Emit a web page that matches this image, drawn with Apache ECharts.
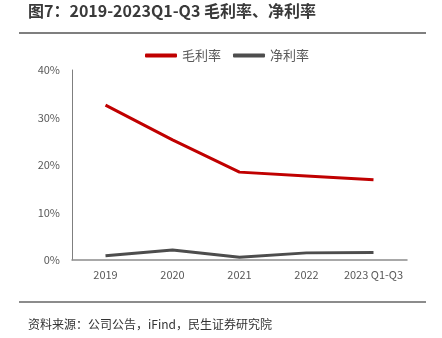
<!DOCTYPE html>
<html><head><meta charset="utf-8">
<script src="https://cdn.jsdelivr.net/npm/echarts@6/dist/echarts.min.js"></script>
<style>html,body{margin:0;padding:0;background:#fff}#c{width:442px;height:338px}</style>
</head><body><div id="c"></div>
<script>
const categories = ['2019', '2020', '2021', '2022', '2023 Q1-Q3'];
const grossMargin = [32.6, 25.3, 18.5, 17.7, 16.9];
const netMargin = [0.9, 2.1, 0.6, 1.5, 1.6];
const yTicks = [0, 10, 20, 30, 40];

const chart = echarts.init(document.getElementById('c'));
const font = '"Noto Sans CJK SC", "Microsoft YaHei", sans-serif';
chart.setOption({
  animation: false,
  textStyle: { fontFamily: font },
  graphic: [
    { type: 'text', left: 28, top: 3, style: { text: '图7：2019-2023Q1-Q3 毛利率、净利率', font: 'bold 16px ' + font, fill: '#3a3a3a' } },
    { type: 'line', shape: { x1: 19, y1: 33, x2: 426, y2: 33 }, style: { stroke: '#555', lineWidth: 1.5 } },
    { type: 'line', shape: { x1: 19, y1: 302, x2: 426, y2: 302 }, style: { stroke: '#666', lineWidth: 1.5 } },
    { type: 'text', left: 28, top: 318, style: { text: '资料来源：公司公告，iFind，民生证券研究院', font: '12px ' + font, fill: '#333' } }
  ],
  legend: {
    top: 44, left: 140,
    itemWidth: 32, itemHeight: 4, itemGap: 12,
    icon: 'roundRect',
    textStyle: { fontSize: 13, color: '#595959', fontFamily: font },
    data: ['毛利率', '净利率']
  },
  grid: { left: 72, right: 35, top: 70, bottom: 78, containLabel: false },
  xAxis: {
    type: 'category', data: categories, boundaryGap: true,
    axisLine: { lineStyle: { color: '#8c8c8c', width: 1.5 } },
    axisTick: { show: false },
    axisLabel: { color: '#595959', fontSize: 11, margin: 9, interval: 0, fontFamily: font }
  },
  yAxis: {
    type: 'value', min: yTicks[0], max: yTicks[yTicks.length - 1], interval: 10,
    axisLine: { show: true, lineStyle: { color: '#7f7f7f', width: 1 } },
    axisTick: { show: false },
    splitLine: { show: false },
    axisLabel: { color: '#595959', fontSize: 11, margin: 12, formatter: '{value}%', fontFamily: font }
  },
  series: [
    { name: '毛利率', type: 'line', data: grossMargin, symbol: 'none', lineStyle: { color: '#C00000', width: 3 }, itemStyle: { color: '#C00000' } },
    { name: '净利率', type: 'line', data: netMargin, symbol: 'none', lineStyle: { color: '#4d4d4d', width: 3 }, itemStyle: { color: '#4d4d4d' } }
  ]
});
</script></body></html>
